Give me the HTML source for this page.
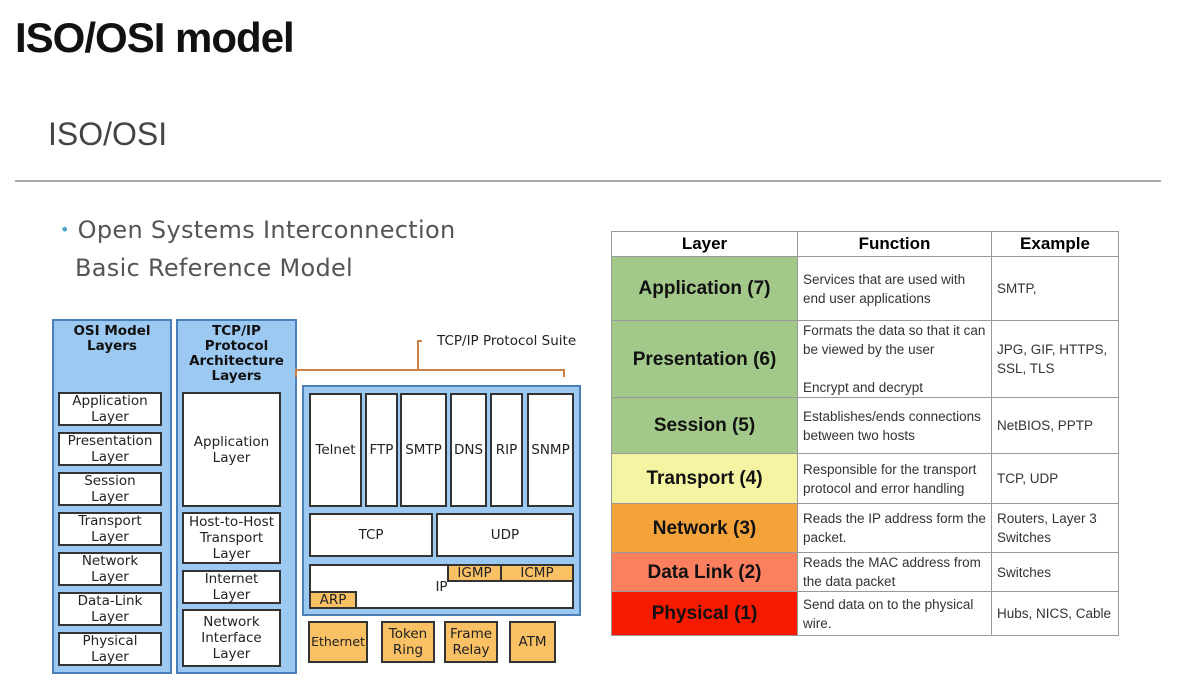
<!DOCTYPE html><html><head><style>
body{margin:0;width:1203px;height:695px;background:#fff;position:relative;overflow:hidden;font-family:"DejaVu Sans","Liberation Sans",sans-serif}
.a{position:absolute;box-sizing:border-box}
.b{position:absolute;box-sizing:border-box;background:#fff;border:2px solid #333;display:flex;align-items:center;justify-content:center;text-align:center;font-size:13.5px;line-height:16px;color:#222}
.o{background:#f9c064}
.col{position:absolute;box-sizing:border-box;background:#9cc9f2;border:2px solid #4a7fb8}
.h{position:absolute;font-weight:bold;font-size:13.5px;line-height:15px;text-align:center;color:#111}
table{position:absolute;left:611px;top:231px;width:508px;border-collapse:collapse;font-family:"Liberation Sans",sans-serif}
td{border:1px solid #999;padding:0 5px;font-size:13.5px;color:#333;line-height:19px}
td.l{font-weight:bold;font-size:19px;text-align:center;color:#111}
th{border:1px solid #999;font-size:17px;height:24px;padding:0}
</style></head><body>
<div class="a" style="left:15px;top:14px;font-size:42px;font-family:'Liberation Sans Narrow','Liberation Sans',sans-serif;font-weight:bold;color:#111;letter-spacing:-1px">ISO/OSI model</div>
<div class="a" style="left:48px;top:116px;font-size:32px;font-family:'Liberation Sans',sans-serif;color:#444">ISO/OSI</div>
<div class="a" style="left:15px;top:180px;width:1146px;height:2px;background:#aaa"></div>
<div class="a" style="left:60px;top:211px;font-size:24px;color:#555;line-height:38px;letter-spacing:0.3px"><span style="color:#4aa6c8;font-size:16px;vertical-align:top">•</span> Open Systems Interconnection</div>
<div class="a" style="left:75px;top:249px;font-size:24px;color:#555;line-height:38px;letter-spacing:0.3px">Basic Reference Model</div>

<div class="col" style="left:52px;top:319px;width:120px;height:355px"></div>
<div class="h" style="left:52px;top:324px;width:120px">OSI Model<br>Layers</div>
<div class="b" style="left:58px;top:392px;width:104px;height:34px">Application<br>Layer</div>
<div class="b" style="left:58px;top:432px;width:104px;height:34px">Presentation<br>Layer</div>
<div class="b" style="left:58px;top:472px;width:104px;height:34px">Session<br>Layer</div>
<div class="b" style="left:58px;top:512px;width:104px;height:34px">Transport<br>Layer</div>
<div class="b" style="left:58px;top:552px;width:104px;height:34px">Network<br>Layer</div>
<div class="b" style="left:58px;top:592px;width:104px;height:34px">Data-Link<br>Layer</div>
<div class="b" style="left:58px;top:632px;width:104px;height:34px">Physical<br>Layer</div>

<div class="col" style="left:176px;top:319px;width:121px;height:355px"></div>
<div class="h" style="left:176px;top:324px;width:121px">TCP/IP<br>Protocol<br>Architecture<br>Layers</div>
<div class="b" style="left:182px;top:392px;width:99px;height:115px">Application<br>Layer</div>
<div class="b" style="left:182px;top:512px;width:99px;height:52px">Host-to-Host<br>Transport<br>Layer</div>
<div class="b" style="left:182px;top:570px;width:99px;height:34px">Internet<br>Layer</div>
<div class="b" style="left:182px;top:609px;width:99px;height:58px">Network<br>Interface<br>Layer</div>

<svg class="a" style="left:0;top:0" width="1203" height="695"><path d="M296 377 V370 H564 V377 M418 370 V341 H422" fill="none" stroke="#d08040" stroke-width="2"/></svg>
<div class="a" style="left:437px;top:333px;font-size:13.5px;color:#222">TCP/IP Protocol Suite</div>

<div class="col" style="left:302px;top:385px;width:279px;height:231px"></div>
<div class="b" style="left:309px;top:393px;width:53px;height:114px">Telnet</div>
<div class="b" style="left:365px;top:393px;width:33px;height:114px">FTP</div>
<div class="b" style="left:400px;top:393px;width:47px;height:114px">SMTP</div>
<div class="b" style="left:450px;top:393px;width:37px;height:114px">DNS</div>
<div class="b" style="left:490px;top:393px;width:33px;height:114px">RIP</div>
<div class="b" style="left:527px;top:393px;width:47px;height:114px">SNMP</div>
<div class="b" style="left:309px;top:513px;width:124px;height:44px">TCP</div>
<div class="b" style="left:436px;top:513px;width:138px;height:44px">UDP</div>
<div class="b" style="left:309px;top:564px;width:265px;height:45px">IP</div>
<div class="b o" style="left:447px;top:564px;width:55px;height:18px">IGMP</div>
<div class="b o" style="left:500px;top:564px;width:74px;height:18px">ICMP</div>
<div class="b o" style="left:309px;top:591px;width:48px;height:18px">ARP</div>
<div class="b o" style="left:308px;top:621px;width:60px;height:42px;font-size:12.5px">Ethernet</div>
<div class="b o" style="left:381px;top:621px;width:54px;height:42px">Token<br>Ring</div>
<div class="b o" style="left:444px;top:621px;width:54px;height:42px">Frame<br>Relay</div>
<div class="b o" style="left:509px;top:621px;width:47px;height:42px">ATM</div>

<table>
<tr><th style="width:185px">Layer</th><th style="width:193px">Function</th><th>Example</th></tr>
<tr style="height:64px"><td class="l" style="background:#a3c98a">Application (7)</td><td>Services that are used with end user applications</td><td>SMTP,</td></tr>
<tr style="height:76px"><td class="l" style="background:#a3c98a">Presentation (6)</td><td>Formats the data so that it can be viewed by the user<br><br>Encrypt and decrypt</td><td>JPG, GIF, HTTPS, SSL, TLS</td></tr>
<tr style="height:56px"><td class="l" style="background:#a3c98a">Session (5)</td><td>Establishes/ends connections between two hosts</td><td>NetBIOS, PPTP</td></tr>
<tr style="height:50px"><td class="l" style="background:#f4f4a2">Transport (4)</td><td>Responsible for the transport protocol and error handling</td><td>TCP, UDP</td></tr>
<tr style="height:49px"><td class="l" style="background:#f4a23a">Network (3)</td><td>Reads the IP address form the packet.</td><td>Routers, Layer 3 Switches</td></tr>
<tr style="height:39px"><td class="l" style="background:#fc7f5f">Data Link (2)</td><td>Reads the MAC address from the data packet</td><td>Switches</td></tr>
<tr style="height:44px"><td class="l" style="background:#f51a00">Physical (1)</td><td>Send data on to the physical wire.</td><td>Hubs, NICS, Cable</td></tr>
</table>
</body></html>
